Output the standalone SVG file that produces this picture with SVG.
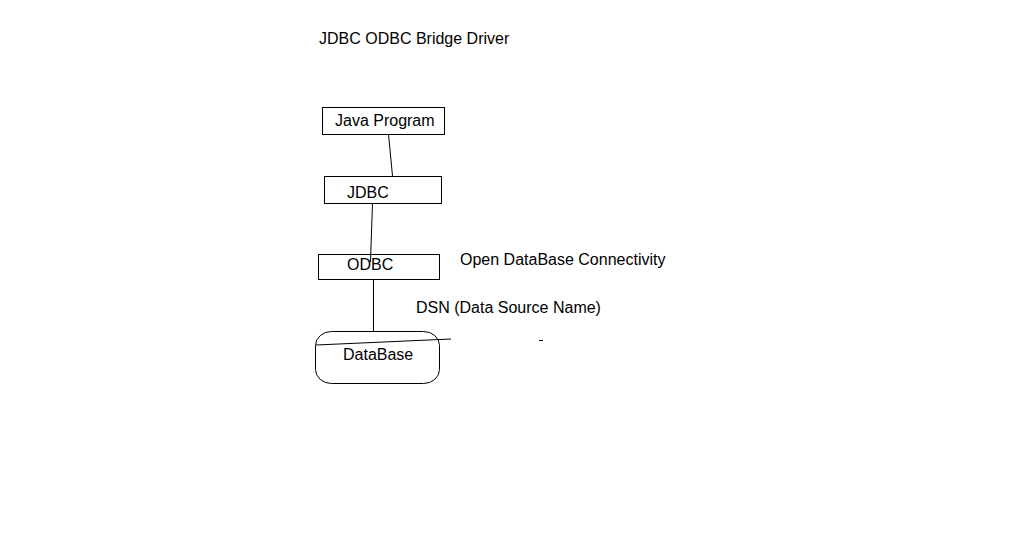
<svg xmlns="http://www.w3.org/2000/svg" width="1034" height="534" viewBox="0 0 1034 534">
<style>
text{font-family:"Liberation Sans",Arial,sans-serif;font-size:16px;fill:#000}
.box{fill:#fff;stroke:#000;stroke-width:1}
.ln{stroke:#000;stroke-width:1;fill:none}
</style>
<rect width="1034" height="534" fill="#fff"/>
<text x="319" y="44">JDBC ODBC Bridge Driver</text>
<g id="java"><rect class="box" x="322.5" y="107.5" width="122" height="27"/><text x="335" y="126">Java Program</text></g>
<g id="jdbc"><rect class="box" x="324.5" y="176.5" width="117" height="27"/><text x="347" y="198">JDBC</text></g>
<g id="odbc"><rect class="box" x="318.5" y="254.5" width="121" height="25"/><text x="347" y="270">ODBC</text></g>
<g id="database"><rect class="box" x="315.5" y="331.5" width="124" height="52" rx="16" ry="14"/><path class="ln" d="M316 345 L451 339"/><text x="343" y="360">DataBase</text></g>
<g id="connectors">
<path class="ln" d="M388.5 134 L392.5 176"/>
<path class="ln" d="M372.5 203 L370.5 262"/>
<path class="ln" d="M373.5 279 L373.5 332"/>
</g>
<text x="460" y="265">Open DataBase Connectivity</text>
<text x="416" y="313">DSN (Data Source Name)</text>
<path class="ln" d="M539 340.5 L543 340.5"/>
</svg>
